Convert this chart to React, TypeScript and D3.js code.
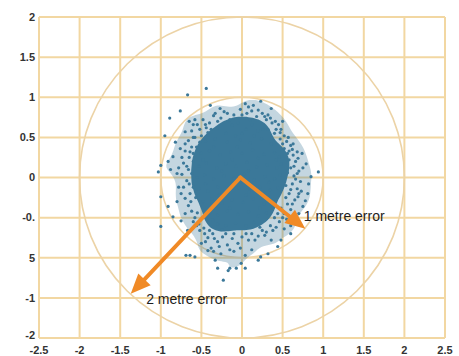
import React, { useEffect, useRef } from 'react';
import * as d3 from 'd3';

// axis ticks as printed on the picture
const xTicks = [-2.5, -2, -1.5, -1, -0.5, 0, 0.5, 1, 1.5, 2, 2.5];
const xTickLabels = ['-2.5', '-2', '-1.5', '-1', '-0.5', '0', '0.5', '1', '1.5', '2', '2.5'];
const yTicks = [2, 1.5, 1, 0.5, 0, -0.5, -1, -1.5, -2];
const yTickLabels = ['2', '1.5', '1', '0.5', '0', '-0.', '5', '-1', '-2'];

// error rings (metres)
const rings = [1, 2];

// position fixes (dense middle, speckled edge, stragglers)
const corePoints: [number, number][] = [
  [-0.3, 0.62], [-0.12, 0.65], [0.05, 0.6], [0.2, 0.58], [-0.2, 0.55], [0.12, 0.66], [-0.05, 0.68], [0.26, 0.6],
  [-0.45, 0.45], [-0.33, 0.48], [-0.18, 0.44], [-0.02, 0.47], [0.1, 0.43], [0.24, 0.48], [0.36, 0.42], [-0.08, 0.52], [0.15, 0.52],
  [-0.5, 0.3], [-0.4, 0.33], [-0.27, 0.28], [-0.14, 0.32], [0.0, 0.3], [0.13, 0.34], [0.27, 0.29], [0.4, 0.31], [0.46, 0.26], [-0.06, 0.38],
  [-0.53, 0.14], [-0.44, 0.18], [-0.31, 0.12], [-0.2, 0.17], [-0.07, 0.14], [0.06, 0.19], [0.18, 0.13], [0.31, 0.16], [0.43, 0.12], [0.48, 0.17],
  [-0.55, 0.0], [-0.46, 0.03], [-0.35, -0.02], [-0.22, 0.02], [-0.1, -0.01], [0.03, 0.04], [0.15, -0.03], [0.28, 0.01], [0.4, -0.02], [0.47, 0.03],
  [-0.53, -0.14], [-0.42, -0.17], [-0.3, -0.12], [-0.17, -0.16], [-0.04, -0.13], [0.09, -0.18], [0.22, -0.12], [0.35, -0.16], [0.44, -0.13],
  [-0.48, -0.3], [-0.37, -0.27], [-0.25, -0.32], [-0.12, -0.28], [0.01, -0.31], [0.14, -0.27], [0.27, -0.33], [0.36, -0.29],
  [-0.4, -0.44], [-0.3, -0.47], [-0.18, -0.42], [-0.05, -0.46], [0.08, -0.43], [0.2, -0.48], [0.3, -0.44],
  [-0.3, -0.58], [-0.2, -0.6], [-0.08, -0.57], [0.05, -0.6], [0.15, -0.56],
  [-0.25, 0.08], [0.08, 0.08], [-0.12, 0.22], [0.2, 0.24], [-0.35, 0.38], [0.33, -0.06], [-0.28, -0.22], [0.05, -0.22],
  [-0.15, -0.38], [0.22, -0.38], [-0.45, -0.08], [0.42, 0.22], [0.0, 0.55], [-0.48, 0.22], [-0.36, -0.53]
];

const spreadPoints: [number, number][] = [
  [-0.62, 0.58], [-0.55, 0.66], [-0.48, 0.72], [-0.4, 0.68], [-0.35, 0.77], [-0.26, 0.74], [-0.18, 0.8], [-0.1, 0.78],
  [-0.02, 0.85], [0.06, 0.8], [0.12, 0.83], [0.18, 0.76], [0.25, 0.8], [0.3, 0.72], [0.37, 0.68], [0.42, 0.6],
  [0.45, 0.66], [0.52, 0.52], [0.55, 0.45], [0.6, 0.4], [0.58, 0.33], [0.63, 0.28], [0.66, 0.2], [0.6, 0.12],
  [0.7, 0.08], [0.64, 0.02], [0.72, -0.05], [0.62, -0.08], [0.68, -0.14], [0.58, -0.2], [0.65, -0.28], [0.56, -0.33],
  [0.6, -0.4], [0.52, -0.45], [0.55, -0.52], [0.46, -0.55], [0.42, -0.62], [0.35, -0.6], [0.3, -0.68], [0.25, -0.66],
  [0.2, -0.73], [0.12, -0.7], [0.08, -0.78], [0.0, -0.74], [-0.05, -0.82], [-0.12, -0.76], [-0.18, -0.84], [-0.24, -0.74],
  [-0.3, -0.8], [-0.36, -0.7], [-0.42, -0.75], [-0.47, -0.63], [-0.53, -0.58], [-0.58, -0.5], [-0.62, -0.42], [-0.66, -0.35],
  [-0.7, -0.26], [-0.64, -0.2], [-0.72, -0.12], [-0.68, -0.04], [-0.74, 0.04], [-0.66, 0.1], [-0.72, 0.18], [-0.65, 0.25],
  [-0.7, 0.33], [-0.62, 0.38], [-0.66, 0.46], [-0.58, 0.5], [-0.52, 0.6], [-0.44, 0.62],
  [-0.6, 0.3], [-0.57, -0.25], [0.54, -0.1], [0.52, 0.36], [-0.3, 0.7], [0.1, 0.72], [-0.1, -0.7], [0.22, -0.62],
  [-0.48, -0.5], [0.47, 0.48], [-0.52, 0.44], [0.48, -0.38], [-0.42, 0.56], [0.32, 0.6], [-0.25, -0.65], [0.4, -0.5],
  [-0.5, 0.52], [-0.45, 0.66], [-0.38, 0.6], [-0.22, 0.82], [-0.15, 0.72], [0.0, 0.78], [0.2, 0.84], [0.28, 0.76],
  [0.35, 0.74], [0.4, 0.55], [0.5, 0.42], [0.56, 0.3], [0.62, 0.35], [0.58, 0.22], [0.64, 0.14], [0.56, 0.06],
  [0.66, -0.02], [0.6, -0.15], [0.54, -0.25], [0.62, -0.33], [0.5, -0.5], [0.44, -0.45], [0.38, -0.66], [0.28, -0.72],
  [0.16, -0.78], [0.05, -0.7], [-0.02, -0.88], [-0.15, -0.9], [-0.2, -0.7], [-0.28, -0.86], [-0.34, -0.76], [-0.4, -0.66],
  [-0.46, -0.7], [-0.52, -0.66], [-0.56, -0.6], [-0.6, -0.55], [-0.55, -0.44], [-0.63, -0.3], [-0.6, -0.12], [-0.65, -0.08],
  [-0.62, 0.05], [-0.68, 0.14], [-0.6, 0.2], [-0.64, 0.32], [-0.7, 0.42], [-0.56, 0.38], [-0.6, 0.5], [-0.33, 0.8],
  [0.08, 0.88], [0.47, 0.56], [0.68, 0.05], [0.7, -0.2], [0.6, -0.6], [-0.7, -0.45], [-0.75, -0.2], [-0.78, 0.12],
  [-0.74, 0.25], [-0.8, 0.05], [-0.45, -0.8], [-0.35, -0.92], [0.36, -0.78], [0.52, -0.64], [0.7, -0.45], [0.75, 0.12],
  [0.68, 0.32], [0.5, 0.7], [-0.6, 0.66], [-0.65, 0.7]
];

const outerPoints: [number, number][] = [
  [-0.67, 1.03], [-0.44, 1.11], [-0.76, 0.83], [-0.89, 0.74], [-0.95, 0.52], [-1.0, 0.15], [-0.39, 0.9], [-0.27, 0.86],
  [-0.58, 0.72], [-0.7, 0.57], [-0.76, 0.36], [-0.85, 0.26], [-0.91, 0.2], [-1.03, 0.07], [-0.82, 0.44], [-0.88, 0.1],
  [0.23, 0.95], [0.14, 0.9], [0.04, 0.92], [0.32, 0.78], [0.48, 0.6], [0.63, 0.42], [0.69, 0.24], [0.79, 0.17],
  [0.94, 0.07], [0.85, 0.01], [0.57, 0.5], [0.41, 0.7], [0.36, 0.86], [0.74, 0.3], [0.82, -0.08],
  [-1.0, -0.24], [-1.0, -0.61], [-0.91, -0.36], [-0.85, -0.49], [-0.75, -0.54], [-0.67, -0.66], [-0.64, -0.97], [-0.58, -0.99],
  [-0.33, -1.03], [-0.3, -1.13], [-0.17, -1.16], [-0.07, -1.13], [-0.42, -0.91], [-0.26, -0.95], [-0.5, -0.82], [-0.8, -0.3], [-0.78, -0.12],
  [0.6, -0.7], [0.48, -0.78], [0.44, -0.86], [0.32, -0.95], [0.23, -0.99], [0.2, -1.03], [0.04, -1.13], [0.63, -0.57],
  [0.75, -0.36], [0.78, -0.29], [0.69, -0.24], [0.73, -0.17], [0.81, -0.2],
  [-0.23, -1.28], [-0.15, -1.13], [-0.01, -1.07], [0.04, -0.97], [-0.69, -0.97], [-0.1, -0.92], [0.12, -0.9], [-0.38, -0.88]
];

// arrows from the centre out to each ring
const arrowOrigin: [number, number] = [-0.02, 0];
const arrowTips: [number, number][] = [[0.78, -0.64], [-1.37, -1.45]];
const arrowLabels = ['1 metre error', '2 metre error'];
const labelAnchors: [number, number][] = [[0.76, -0.48], [-1.18, -1.51]];

const W = 459, H = 356;
const grid = '#f2d7a2';
const ringColor = '#ecd3a6';
const dotColor = '#3b7899';
const orange = '#f08a26';

export default function App() {
  const ref = useRef<SVGSVGElement>(null);

  useEffect(() => {
    const svg = d3.select(ref.current);
    svg.selectAll('*').remove();

    const x = d3.scaleLinear().domain([-2.5, 2.5]).range([39, 445]);
    const y = d3.scaleLinear().domain([-2, 2]).range([338, 17]);

    svg.append('rect').attr('width', W).attr('height', H).attr('fill', '#fff');

    // grid
    svg.append('g').selectAll('line').data(xTicks).enter().append('line')
      .attr('x1', d => x(d)).attr('x2', d => x(d))
      .attr('y1', y(2)).attr('y2', y(-2))
      .attr('stroke', grid).attr('stroke-width', 2);
    svg.append('g').selectAll('line').data(yTicks).enter().append('line')
      .attr('y1', d => y(d)).attr('y2', d => y(d))
      .attr('x1', x(-2.5)).attr('x2', x(2.5))
      .attr('stroke', grid).attr('stroke-width', 2);

    // rings
    svg.append('g').selectAll('ellipse').data(rings).enter().append('ellipse')
      .attr('cx', x(0)).attr('cy', y(0))
      .attr('rx', d => x(d) - x(0)).attr('ry', d => y(0) - y(d))
      .attr('fill', 'none').attr('stroke', ringColor).attr('stroke-width', 1.6);

    const all = corePoints.concat(spreadPoints, outerPoints);

    // speckled band: faint density of every fix
    const densAll = d3.contourDensity<[number, number]>()
      .x(d => x(d[0])).y(d => y(d[1]))
      .size([W, H]).cellSize(2).bandwidth(7)
      .thresholds(40)(all);
    const maxAll = d3.max(densAll, d => d.value) || 1;
    const band = densAll.filter(d => d.value >= maxAll * 0.38)[0];
    if (band) {
      svg.append('path').datum(band).attr('d', d3.geoPath())
        .attr('fill', dotColor).attr('fill-opacity', 0.3);
    }

    // solid middle of the cloud: density of the core fixes
    const dens = d3.contourDensity<[number, number]>()
      .x(d => x(d[0])).y(d => y(d[1]))
      .size([W, H]).cellSize(2).bandwidth(8)
      .thresholds(40)(corePoints);
    const maxV = d3.max(dens, d => d.value) || 1;
    const level = dens.filter(d => d.value >= maxV * 0.33)[0];
    if (level) {
      svg.append('path').datum(level).attr('d', d3.geoPath()).attr('fill', dotColor);
    }

    // individual fixes
    svg.append('g').selectAll('circle').data(all).enter().append('circle')
      .attr('cx', d => x(d[0])).attr('cy', d => y(d[1]))
      .attr('r', 1.6).attr('fill', dotColor);

    // arrows
    const ox = x(arrowOrigin[0]), oy = y(arrowOrigin[1]);
    arrowTips.forEach(t => {
      const tx = x(t[0]), ty = y(t[1]);
      const len = Math.hypot(tx - ox, ty - oy);
      const ux = (tx - ox) / len, uy = (ty - oy) / len;
      const hl = 20, hw = 8.5;
      const bx = tx - ux * hl, by = ty - uy * hl;
      svg.append('line').attr('x1', ox).attr('y1', oy).attr('x2', bx + ux * 2).attr('y2', by + uy * 2)
        .attr('stroke', orange).attr('stroke-width', 4).attr('stroke-linecap', 'round');
      svg.append('path')
        .attr('d', `M${tx},${ty}L${bx - uy * hw},${by + ux * hw}L${bx + uy * hw},${by - ux * hw}Z`)
        .attr('fill', orange);
    });
    // joint at the vertex
    svg.append('circle').attr('cx', ox).attr('cy', oy).attr('r', 2).attr('fill', orange);

    svg.append('g').selectAll('text').data(arrowLabels).enter().append('text')
      .attr('x', (d, i) => x(labelAnchors[i][0])).attr('y', (d, i) => y(labelAnchors[i][1]))
      .attr('dy', '0.35em')
      .style('font-family', 'Liberation Sans, Arial, sans-serif').style('font-size', '14px')
      .attr('fill', '#1e1e1e')
      .text(d => d);

    // tick labels
    svg.append('g').selectAll('text').data(xTicks).enter().append('text')
      .attr('x', d => x(d)).attr('y', 350).attr('dy', '0.35em')
      .attr('text-anchor', 'middle')
      .style('font-family', 'Liberation Sans, Arial, sans-serif').style('font-size', '11px').style('font-weight', 'bold')
      .attr('fill', '#333')
      .text((d, i) => xTickLabels[i]);
    svg.append('g').selectAll('text').data(yTicks).enter().append('text')
      .attr('x', 35).attr('y', d => y(d) - (d === -2 ? 3 : 0)).attr('dy', '0.35em')
      .attr('text-anchor', 'end')
      .style('font-family', 'Liberation Sans, Arial, sans-serif').style('font-size', '11px').style('font-weight', 'bold')
      .attr('fill', '#333')
      .text((d, i) => yTickLabels[i]);
  }, []);

  return (
    <svg ref={ref} width={W} height={H}
      style={{ position: 'absolute', left: 0, top: 0, display: 'block' }} />
  );
}
